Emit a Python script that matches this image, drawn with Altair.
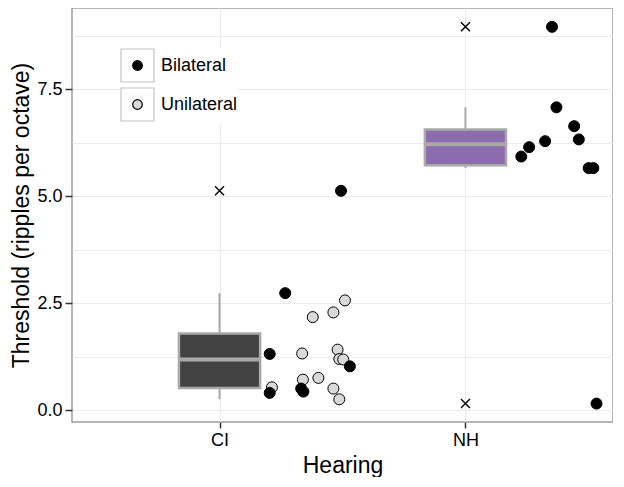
import altair as alt
import pandas as pd

# ---- data ----
hearing = ["CI"] * 19 + ["NH"] * 10
listening = (["Unilateral"] * 12 + ["Bilateral"] * 7 + ["Bilateral"] * 10)
threshold = [
    # CI unilateral
    2.57, 2.29, 2.18, 1.33, 1.42, 1.20, 1.19, 0.72, 0.76, 0.54, 0.51, 0.26,
    # CI bilateral
    2.74, 1.32, 1.03, 0.41, 0.51, 0.44, 5.13,
    # NH bilateral
    8.96, 7.08, 6.64, 6.33, 6.29, 6.15, 5.93, 5.66, 5.66, 0.16,
]
jitter = [
    0.510, 0.463, 0.379, 0.336, 0.480, 0.487, 0.503, 0.339, 0.402, 0.213, 0.463, 0.487,
    0.267, 0.204, 0.530, 0.204, 0.332, 0.341, 0.494,
    0.352, 0.370, 0.442, 0.461, 0.324, 0.259, 0.227, 0.501, 0.520, 0.533,
]
groups = ["CI", "NH"]
box_fills = ["#424242", "#8B6CAD"]
kinds = ["Bilateral", "Unilateral"]
kind_fills = ["#000000", "#d9d9d9"]
y_ticks = [0, 1.25, 2.5, 3.75, 5.0, 6.25, 7.5, 8.75]

df = pd.DataFrame({"hearing": hearing, "listening": listening,
                   "threshold": threshold, "jitter": jitter})

FONT = "Liberation Sans"
xscale = alt.Scale(domain=[0.4, 2.6], nice=False, zero=False)
yscale = alt.Scale(domain=[-0.27, 9.40], nice=False, zero=False)

xaxis = alt.Axis(values=[1, 2], labelExpr="datum.value == 1 ? 'CI' : 'NH'",
                 tickSize=6, labelPadding=3, titlePadding=5)
yaxis = alt.Axis(values=y_ticks,
                 labelExpr="datum.value % 2.5 == 0 ? format(datum.value, '.1f') : ''",
                 tickColor={"condition": {"test": "datum.value % 2.5 != 0", "value": "transparent"},
                            "value": "#333333"},
                 tickSize=7, labelPadding=3, titlePadding=3)


def X(f):
    return alt.X(f, type="quantitative", scale=xscale, axis=xaxis, title="Hearing")


def Y(f):
    return alt.Y(f, type="quantitative", scale=yscale, axis=yaxis,
                 title="Threshold (ripples per octave)")


base = alt.Chart(df).transform_calculate(pos="datum.hearing == 'CI' ? 1 : 2")

stats = base.transform_joinaggregate(
    q1="q1(threshold)", q3="q3(threshold)", med="median(threshold)", groupby=["hearing"]
).transform_calculate(
    lo="datum.q1 - 1.5 * (datum.q3 - datum.q1)",
    hi="datum.q3 + 1.5 * (datum.q3 - datum.q1)",
)

whisk = stats.transform_filter(
    "datum.threshold >= datum.lo && datum.threshold <= datum.hi"
).transform_aggregate(
    lower="min(threshold)", upper="max(threshold)", bq1="min(q1)", bq3="min(q3)",
    groupby=["hearing", "pos"],
)
upper_rule = whisk.mark_rule(color="#a9a9a9", strokeWidth=2).encode(
    x=X("pos"), y=Y("bq3"), y2="upper:Q")
lower_rule = whisk.mark_rule(color="#a9a9a9", strokeWidth=2).encode(
    x=X("pos"), y=Y("lower"), y2="bq1:Q")

boxes = stats.transform_aggregate(
    bq1="min(q1)", bq3="min(q3)", bmed="min(med)", groupby=["hearing", "pos"]
).transform_calculate(xa="datum.pos - 0.165", xb="datum.pos + 0.165")

box = boxes.mark_bar(stroke="#a9a9a9", strokeWidth=2.5, opacity=1).encode(
    x=X("xa"), x2="xb:Q", y=Y("bq1"), y2="bq3:Q",
    color=alt.Color("hearing:N", scale=alt.Scale(domain=groups, range=box_fills), legend=None),
)
median = boxes.mark_rule(color="#a9a9a9", strokeWidth=4).encode(
    x=X("xa"), x2="xb:Q", y=Y("bmed"))

XPATH = "M-1,-1L1,1M1,-1L-1,1"
outliers = stats.transform_filter(
    "datum.threshold < datum.lo || datum.threshold > datum.hi"
).mark_point(shape=XPATH, size=81, stroke="black", strokeWidth=1.4, filled=False, opacity=1).encode(
    x=X("pos"), y=Y("threshold"))

# small circle inside a full-size (invisible) bounding box so both legends share geometry
CIRC = ("M-1,-1M1,1M0.29,0C0.29,0.16,0.16,0.29,0,0.29C-0.16,0.29,-0.29,0.16,-0.29,0"
        "C-0.29,-0.16,-0.16,-0.29,0,-0.29C0.16,-0.29,0.29,-0.16,0.29,0Z")

LEG = dict(title=None, orient="none", legendX=48, legendY=40, symbolSize=1089,
           labelFontSize=18, labelFont=FONT, labelOffset=6, rowPadding=0, padding=0)

# legend key boxes (dummy layer with no rows, explicit domain)
keys = alt.Chart(df).transform_filter("false").mark_point(
    filled=False, stroke="#c4c4c4", strokeWidth=1.2, opacity=1
).encode(
    x=X("jitter"), y=Y("threshold"),
    shape=alt.Shape("listening:N",
                    scale=alt.Scale(domain=["Bilateral ", "Unilateral "], range=["square", "square"]),
                    legend=alt.Legend(symbolFillColor="transparent",
                                      symbolStrokeColor="#c4c4c4", symbolStrokeWidth=1.2,
                                      labelOpacity=0, fillColor="white", **LEG)),
)

points = base.transform_calculate(px="datum.pos + datum.jitter").mark_point(
    filled=True, size=121, stroke="black", strokeWidth=1, opacity=1
).encode(
    x=X("px"), y=Y("threshold"),
    fill=alt.Fill("listening:N", scale=alt.Scale(domain=kinds, range=kind_fills),
                  legend=alt.Legend(symbolType=CIRC, symbolStrokeColor="black",
                                    symbolStrokeWidth=1.2, labelColor="black", **LEG)),
)

chart = alt.layer(keys, upper_rule, lower_rule, box, median, outliers, points).properties(
    width=541, height=414, padding={"left": 2, "top": 0, "right": 0, "bottom": 0}
).configure_view(
    stroke="#9e9e9e", strokeWidth=1.5, fill="white"
).configure_axis(
    domain=False, grid=True, gridColor="#ebebeb", gridWidth=1,
    tickColor="#333333", tickWidth=1.5,
    labelFont=FONT, labelFontSize=18, labelColor="black",
    titleFont=FONT, titleFontSize=23, titleFontWeight="normal", titleColor="black",
)

chart.save("out.html", embed_options={"renderer": "svg", "actions": False})
